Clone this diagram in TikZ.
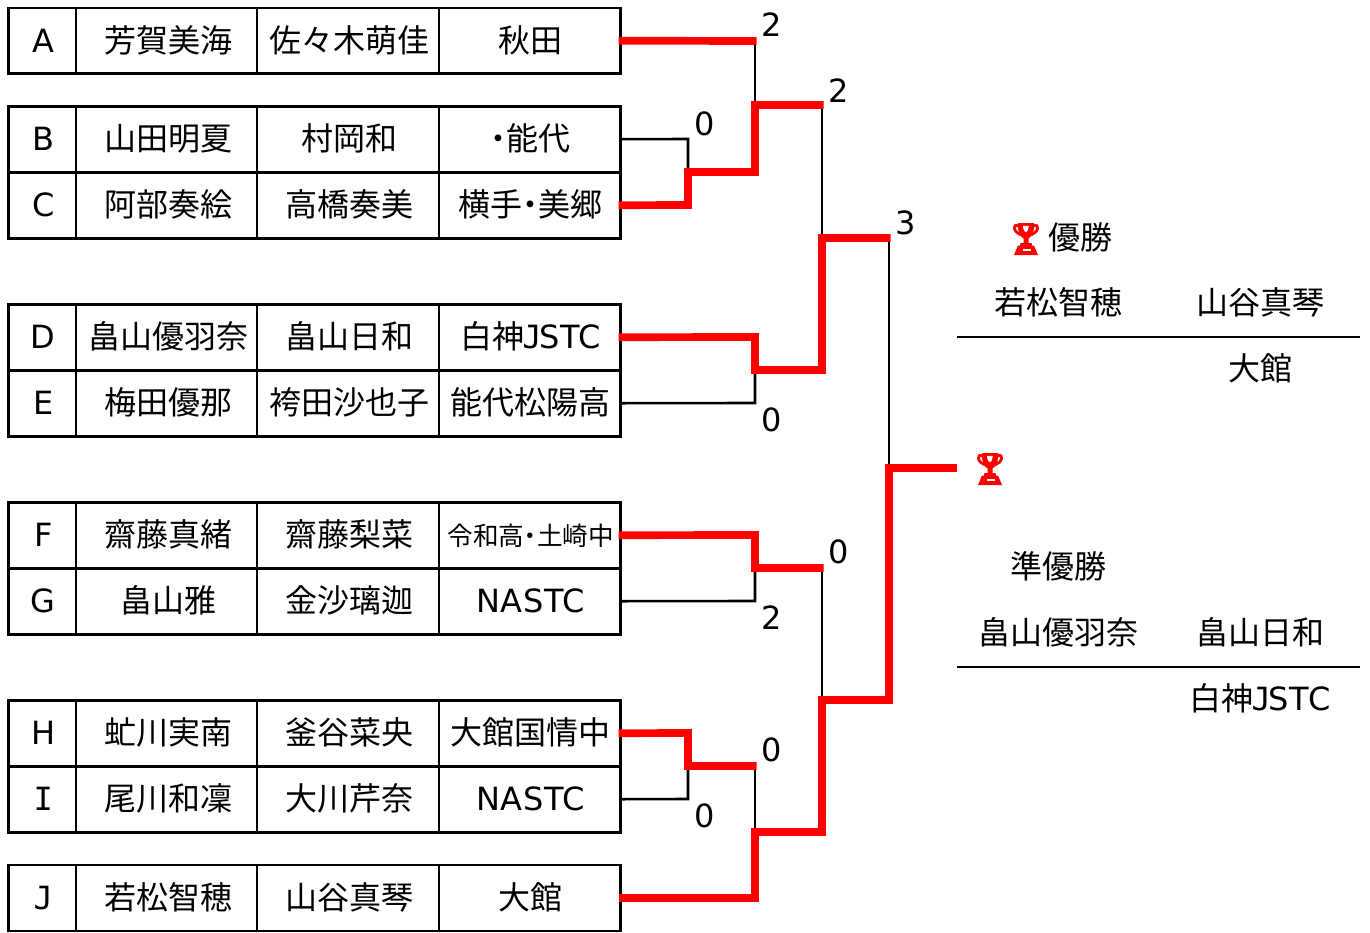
\documentclass[tikz,border=0pt]{standalone}
\usepackage{fontspec}
\setmainfont{DejaVu Sans}
\setmonofont{DejaVu Sans Mono}
\newfontfamily\cjk{Noto Sans CJK JP}
\newfontfamily\latinw[LetterSpace=2]{DejaVu Sans}
\newcommand\JJ[1]{{\cjk #1}}
\newcommand\HD{\makebox[.5em][c]{\cjk ・}}
\newcommand\smallfs{\fontsize{25.6}{30}\selectfont}
\newcommand\JS{{\latinw\makebox[.47em][c]{\ttfamily J}STC}}
\definecolor{winred}{RGB}{255,0,0}
\tikzset{
  base/.style={font=\fontsize{32}{38}\selectfont,inner sep=0pt,outer sep=0pt,text height=30pt,text depth=7pt,align=center},
  cell/.style={base,draw=black,line width=2.8pt,minimum height=#1},
  label/.style={base},
  score/.style={base},
  lose/.style={draw=black,line width=2.6pt,line join=miter},
  win/.style={draw=winred,line width=7.7pt,line join=miter,shorten <=-2pt,shorten >=-1.5pt},
  rule/.style={draw=black,line width=2.6pt},
  trophy/.pic={
    \fill[winred] (5,0) -- (21,0) -- (21,4) .. controls (21,10) and (18,14) .. (15.5,15.5) -- (15.5,20) -- (18.5,20) -- (19,22.5) -- (21,22.5) -- (25,32) -- (1,32) -- (5,22.5) -- (7,22.5) -- (7.5,20) -- (10.5,20) -- (10.5,15.5) .. controls (8,14) and (5,10) .. (5,4) -- cycle;
    \fill[white] (10,2.8) -- (15.5,2.8) -- (15.5,4.5) .. controls (15.5,6.5) and (14.5,8) .. (13,9.5) .. controls (11.5,8) and (10,6.5) .. (10,4.5) -- cycle;
    \fill[white] (9.5,25.5) rectangle (17.5,27.5);
    \draw[winred,line width=2.8pt] (6,3) .. controls (2,1.5) and (1,3) .. (1.4,5.5) .. controls (1.9,8.5) and (5,10.5) .. (8,12);
    \draw[winred,line width=2.8pt] (20,3) .. controls (24,1.5) and (25,3) .. (24.6,5.5) .. controls (24.1,8.5) and (21,10.5) .. (18,12);
  }
}
\newcommand\trow[7]{% name, ycentre, height, letter, p1, p2, team
  \node[cell=#3,minimum width=67.5pt] (#1l) at (42.25,#2) {\hspace*{2pt}#4};
  \node[cell=#3,minimum width=181pt] (#1p) at (166.5,#2) {\hspace*{3.5pt}#5};
  \node[cell=#3,minimum width=182pt] (#1q) at (348,#2) {\hspace*{2pt}#6};
  \node[cell=#3,minimum width=181.5pt] (#1t) at (529.75,#2) {\hspace*{2pt}#7};
}
\begin{document}
\begin{tikzpicture}[x=1pt,y=-1pt]
\useasboundingbox (0,0) rectangle (1370,932);
\trow{a}{40.7}{65.5}{A}{\JJ{芳賀美海}}{\JJ{佐々木萌佳}}{\JJ{秋田}}
\trow{b}{139.2}{66}{B}{\JJ{山田明夏}}{\JJ{村岡和}}{\JJ{\HD 能代}}
\trow{c}{205.2}{66}{C}{\JJ{阿部奏絵}}{\JJ{高橋奏美}}{\JJ{横手\HD 美郷}}
\trow{d}{337.2}{66}{D}{\JJ{畠山優羽奈}}{\JJ{畠山日和}}{\JJ{白神}\JS}
\trow{e}{403.2}{66}{E}{\JJ{梅田優那}}{\JJ{袴田沙也子}}{\JJ{能代松陽高}}
\trow{f}{535.2}{66}{F}{\JJ{齋藤真緒}}{\JJ{齋藤梨菜}}{\raisebox{1.5pt}{\smallfs\JJ{令和高\HD 土崎中}}}
\trow{g}{601.2}{66}{G}{\JJ{畠山雅}}{\JJ{金沙璃迦}}{{\latinw NASTC}}
\trow{h}{733.2}{66}{H}{\JJ{虻川実南}}{\JJ{釜谷菜央}}{\JJ{大館国情中}}
\trow{i}{799.2}{66}{{\ttfamily I}}{\JJ{尾川和凜}}{\JJ{大川芹奈}}{{\latinw NASTC}}
\trow{j}{898}{66}{{\ttfamily J}}{\JJ{若松智穂}}{\JJ{山谷真琴}}{\JJ{大館}}

% junctions
\coordinate (r1a) at (755,41);
\coordinate (s1) at (688,172);
\coordinate (s1b) at (688,139);
\coordinate (s1c) at (688,205);
\coordinate (r2a) at (755,172);
\coordinate (r2b) at (755,105);
\coordinate (r3a) at (822,105);
\coordinate (s2d) at (755,337);
\coordinate (s2) at (755,370);
\coordinate (s2e) at (755,403);
\coordinate (r3b) at (822,370);
\coordinate (r4a) at (822,238);
\coordinate (r5a) at (889,238);
\coordinate (s3f) at (755,535);
\coordinate (s3) at (755,568);
\coordinate (s3g) at (755,601);
\coordinate (r3c) at (822,568);
\coordinate (s4h) at (688,733);
\coordinate (s4) at (688,766);
\coordinate (s4i) at (688,799);
\coordinate (r2c) at (755,766);
\coordinate (r2d) at (755,832);
\coordinate (s5j) at (755,898);
\coordinate (r3d) at (822,832);
\coordinate (r4b) at (822,700);
\coordinate (r5b) at (889,700);
\coordinate (fin) at (889,468);
\coordinate (finend) at (957,468);

% losing lines
\draw[lose] (r1a) -- (r2b);
\draw[lose] (bt.east) -- (s1b) -- (s1);
\draw[lose] (r3a) -- (r4a);
\draw[lose] (et.east) -- (s2e) -- (s2);
\draw[lose] (r5a) -- (fin);
\draw[lose] (gt.east) -- (s3g) -- (s3);
\draw[lose] (r3c) -- (r4b);
\draw[lose] (it.east) -- (s4i) -- (s4);
\draw[lose] (r2c) -- (r2d);

% winning lines
\draw[win] (at.east) -- (r1a);
\draw[win] (ct.east) -- (s1c) -- (s1) -- (r2a) -- (r2b) -- (r3a);
\draw[win] (dt.east) -- (s2d) -- (s2) -- (r3b) -- (r4a) -- (r5a);
\draw[win] (ft.east) -- (s3f) -- (s3) -- (r3c);
\draw[win] (ht.east) -- (s4h) -- (s4) -- (r2c);
\draw[win,shorten >=0pt] (jt.east) -- (s5j) -- (r2d) -- (r3d) -- (r4b) -- (r5b) -- (fin) -- (finend);

% scores
\node[score] (sa) at (772,25) {2};
\node[score] (sb) at (705,124) {0};
\node[score] (sab) at (839,91) {2};
\node[score] (sq) at (906,223) {3};
\node[score] (se) at (772,420) {0};
\node[score] (sf) at (839,552) {0};
\node[score] (sg) at (772,618) {2};
\node[score] (sh) at (772,750) {0};
\node[score] (si) at (705,816) {0};

% result panel
\pic at (1013,223) {trophy};
\pic at (977,453) {trophy};
\node[label] (champ) at (1080,238) {\JJ{優勝}};
\node[label] (w1) at (1058,303) {\JJ{若松智穂}};
\node[label] (w2) at (1260,303) {\JJ{山谷真琴}};
\coordinate (ul) at (957,337);
\coordinate (ur) at (1360,337);
\draw[rule] (ul) -- (ur);
\node[label] (wt) at (1260,369) {\JJ{大館}};
\node[label] (runner) at (1058,567) {\JJ{準優勝}};
\node[label] (l1) at (1058,633) {\JJ{畠山優羽奈}};
\node[label] (l2) at (1260,633) {\JJ{畠山日和}};
\coordinate (ll) at (957,667);
\coordinate (lr) at (1360,667);
\draw[rule] (ll) -- (lr);
\node[label] (lt) at (1260,699) {\JJ{白神}\JS};
\end{tikzpicture}
\end{document}
